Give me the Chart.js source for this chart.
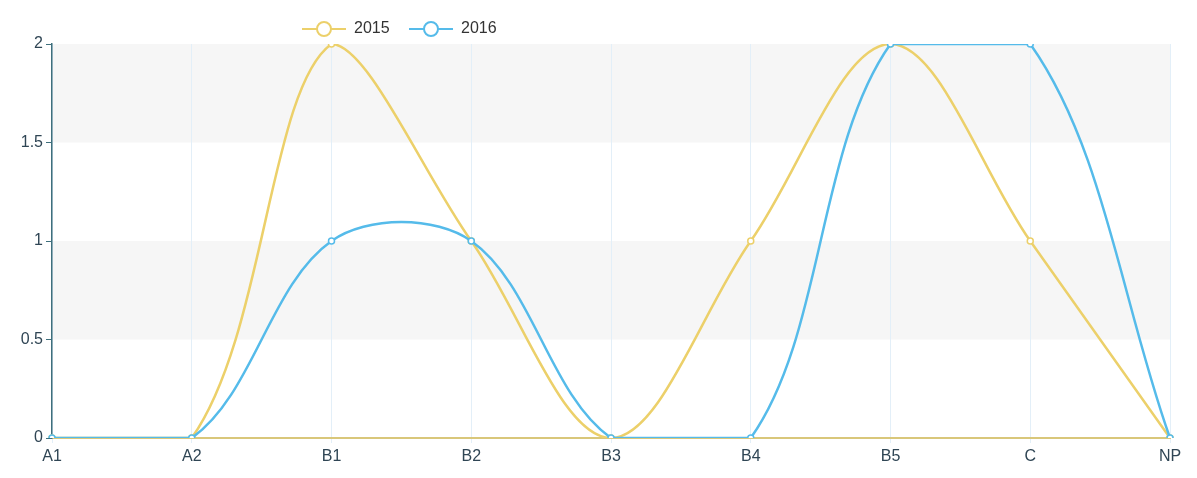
<!DOCTYPE html>
<html>
<head>
<meta charset="utf-8">
<script src="https://cdn.jsdelivr.net/npm/chart.js@4/dist/chart.umd.min.js"></script>
<style>
  html, body { margin: 0; padding: 0; background: #fff; }
  #wrap { position: relative; width: 1197px; height: 478px; }
</style>
</head>
<body>
<div id="wrap"><canvas id="chart" width="1197" height="478"></canvas></div>
<script>
// categories and series
const categories = ['A1', 'A2', 'B1', 'B2', 'B3', 'B4', 'B5', 'C', 'NP'];
const values2015 = [0, 0, 2, 1, 0, 1, 2, 1, 0];
const values2016 = [0, 0, 1, 1, 0, 0, 2, 2, 0];
const yTicks = [0, 0.5, 1, 1.5, 2];

const color2015 = '#ecd06a';
const color2016 = '#55bbea';

// alternating background bands
const bandsPlugin = {
    id: 'bands',
    beforeDraw(chart) {
        const { ctx, chartArea, scales } = chart;
        const y = scales.y;
        ctx.save();
        for (let i = 0; i < yTicks.length - 1; i++) {
            const top = y.getPixelForValue(yTicks[i + 1]);
            const bottom = y.getPixelForValue(yTicks[i]);
            ctx.fillStyle = (i % 2 === 1) ? '#f6f6f6' : '#ffffff';
            ctx.fillRect(chartArea.left, top, chartArea.right - chartArea.left, bottom - top);
        }
        ctx.restore();
    }
};

// legend like the reference: line with hollow circle
const legendPlugin = {
    id: 'customLegend',
    afterDraw(chart) {
        const { ctx } = chart;
        const items = [
            { label: '2015', color: color2015, x: 302 },
            { label: '2016', color: color2016, x: 409 }
        ];
        ctx.save();
        ctx.font = '16px "Liberation Sans", Arial, sans-serif';
        ctx.textBaseline = 'middle';
        items.forEach(it => {
            const cy = 29;
            ctx.strokeStyle = it.color;
            ctx.lineWidth = 2;
            ctx.beginPath();
            ctx.moveTo(it.x, cy);
            ctx.lineTo(it.x + 44, cy);
            ctx.stroke();
            ctx.beginPath();
            ctx.arc(it.x + 22, cy, 7, 0, Math.PI * 2);
            ctx.fillStyle = '#fff';
            ctx.fill();
            ctx.stroke();
            ctx.fillStyle = '#333';
            ctx.fillText(it.label, it.x + 52, cy);
        });
        ctx.restore();
    }
};

new Chart(document.getElementById('chart'), {
    type: 'line',
    data: {
        labels: categories,
        datasets: [{
            label: '2015',
            data: values2015,
            borderColor: color2015,
            backgroundColor: '#fff',
            pointBackgroundColor: '#fff',
            pointBorderColor: color2015,
            borderWidth: 2.5,
            pointRadius: 3,
            pointBorderWidth: 1.5,
            tension: 0.35,
            order: 1
        }, {
            label: '2016',
            data: values2016,
            borderColor: color2016,
            backgroundColor: '#fff',
            pointBackgroundColor: '#fff',
            pointBorderColor: color2016,
            borderWidth: 2.5,
            pointRadius: 3,
            pointBorderWidth: 1.5,
            tension: 0.35,
            order: 0
        }]
    },
    options: {
        responsive: false,
        animation: false,
        layout: { padding: { top: 44, right: 27, left: 0, bottom: 0 } },
        plugins: {
            legend: { display: false },
            tooltip: { enabled: false }
        },
        scales: {
            x: {
                offset: false,
                grid: { color: '#e3eff8', tickLength: 5, lineWidth: 1 },
                border: { color: '#d9c77a', width: 2 },
                ticks: {
                    color: '#2f4554',
                    font: { size: 16, family: '"Liberation Sans", Arial, sans-serif' },
                    padding: 4,
                    maxRotation: 0,
                    autoSkip: false
                },
                afterFit: s => { s.height = 40; }
            },
            y: {
                min: 0,
                max: 2,
                afterBuildTicks: s => { s.ticks = yTicks.map(v => ({ value: v })); },
                grid: { drawOnChartArea: false, color: '#3e6f7c', tickLength: 6 },
                border: { color: '#3e6f7c', width: 1.5 },
                ticks: {
                    color: '#2f4554',
                    font: { size: 16, family: '"Liberation Sans", Arial, sans-serif' },
                    padding: 3,
                    callback: v => String(v)
                },
                afterFit: s => { s.width = 52; }
            }
        }
    },
    plugins: [bandsPlugin, legendPlugin]
});
</script>
</body>
</html>
